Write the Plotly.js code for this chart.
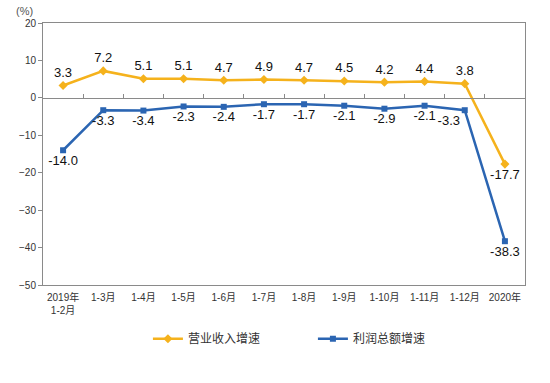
<!DOCTYPE html>
<html><head><meta charset="utf-8">
<script src="https://cdn.plot.ly/plotly-3.0.1.min.js"></script>
<style>body{margin:0;background:#fff}#c{width:550px;height:383px}</style>
</head><body><div id="c"></div>
<script>
const categories = ['2019年<br>1-2月','1-3月','1-4月','1-5月','1-6月','1-7月','1-8月','1-9月','1-10月','1-11月','1-12月','2020年'];
const revenueGrowth = [3.3, 7.2, 5.1, 5.1, 4.7, 4.9, 4.7, 4.5, 4.2, 4.4, 3.8, -17.7];
const profitGrowth = [-14.0, -3.3, -3.4, -2.3, -2.4, -1.7, -1.7, -2.1, -2.9, -2.1, -3.3, -38.3];
const seriesNames = ['营业收入增速', '利润总额增速'];

const orange = '#F5B21C', blue = '#2B65B2';
const n = categories.length;
const revPos = revenueGrowth.map((v,i)=> i===n-1 ? 'bottom center' : 'top center');
const profPos = profitGrowth.map((v,i)=> i===n-2 ? 'bottom left' : 'bottom center');

const traces = [
  {x: categories, y: revenueGrowth, name: seriesNames[0], type:'scatter', mode:'lines+markers+text',
   line:{color:orange, width:2.5}, marker:{symbol:'diamond', size:7, color:orange},
   text: revenueGrowth.map(v=>v.toFixed(1)), textposition: revPos,
   textfont:{family:'Liberation Sans, Arial', size:13, color:'#111'}, cliponaxis:false},
  {x: categories, y: profitGrowth, name: seriesNames[1], type:'scatter', mode:'lines+markers+text',
   line:{color:blue, width:2.5}, marker:{symbol:'square', size:6, color:blue},
   text: profitGrowth.map(v=>v.toFixed(1)), textposition: profPos,
   textfont:{family:'Liberation Sans, Arial', size:13, color:'#111'}, cliponaxis:false},
  {x: categories, y: categories.map(()=>null), xaxis:'x2', showlegend:false, hoverinfo:'skip', mode:'lines'}
];

const layout = {
  width:550, height:383,
  margin:{l:43, r:25, t:23, b:98},
  paper_bgcolor:'#fff', plot_bgcolor:'#fff',
  font:{family:'Noto Sans CJK SC, Liberation Sans, Arial', color:'#333'},
  showlegend:true,
  legend:{orientation:'h', x:0.56, xanchor:'center', y:-0.15, yanchor:'top',
    font:{size:12, color:'#333', family:'Noto Sans CJK SC'}, entrywidth:120, itemwidth:30},
  xaxis:{type:'category', range:[-0.5, n-0.5], showline:true, mirror:true, linecolor:'#8a8a8a', linewidth:1,
    ticks:'', showgrid:false, zeroline:false, tickangle:0, ticklabelstandoff:3,
    tickfont:{size:10, color:'#333', family:'Liberation Sans, Noto Sans CJK SC'}},
  xaxis2:{type:'category', overlaying:'x', anchor:'free', position:50/70, range:[-0.5, n-0.5],
    showline:true, linecolor:'#8a8a8a', linewidth:1, ticks:'inside', tickson:'boundaries', ticklen:4,
    tickcolor:'#8a8a8a', showticklabels:false, showgrid:false, zeroline:false},
  yaxis:{range:[-50,20], dtick:10, showline:true, mirror:true, linecolor:'#8a8a8a', linewidth:1,
    ticks:'outside', ticklen:4, tickcolor:'#8a8a8a', showgrid:false, zeroline:false,
    tickfont:{size:10, color:'#333', family:'Liberation Sans, Arial'}},
  annotations:[{text:'(%)', xref:'paper', yref:'paper', x:-0.06, y:1.015, xanchor:'left', yanchor:'bottom',
    showarrow:false, font:{size:11, color:'#555', family:'Liberation Sans'}}]
};
Plotly.newPlot('c', traces, layout, {displayModeBar:false, staticPlot:true});
</script></body></html>
